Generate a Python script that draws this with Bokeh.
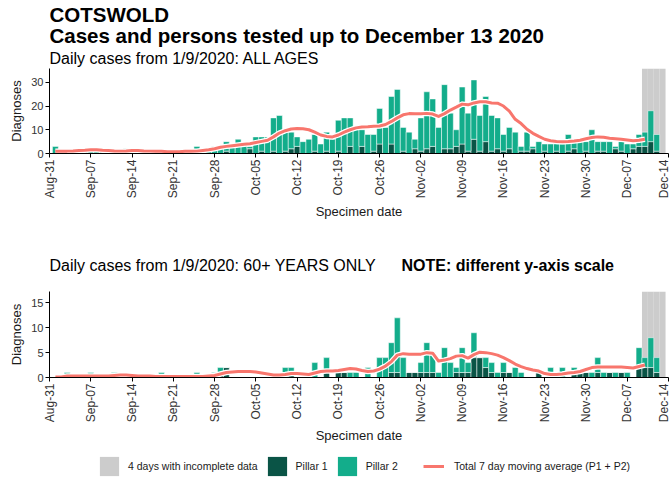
import math
import pandas as pd
from bokeh.plotting import figure
from bokeh.models import (ColumnDataSource, Range1d, FixedTicker, DatetimeTickFormatter,
                          Label, Legend, LegendItem)
from bokeh.layouts import column
from bokeh.embed import file_html
from bokeh.resources import INLINE

FONT = "Liberation Sans"
DARK = "#0a5446"
TEAL = "#13ad8b"
GREY = "#cccccc"
RED = "#f8766d"
W = 670

# ---------------- data ----------------
dates = pd.date_range("2020-09-01", "2020-12-13", freq="D")
week_ticks = pd.date_range("2020-08-31", "2020-12-14", freq="7D")
incomplete_days = pd.date_range("2020-12-10", "2020-12-13", freq="D")

all_p1 = [0, 0, 0, 0, 0, 0, 0,  0, 0, 0, 0, 0, 0, 0,  0, 0, 0, 0, 0, 0, 0,  0, 0, 0, 0, 0, 0, 0,
          0, 1, 0, 0, 0, 2, 0,  1, 0, 1, 0, 1, 2, 3,  0, 0, 1, 0, 1, 0, 1,  0, 3, 0, 3, 0, 1, 4,
          0, 4, 0, 1, 0, 2, 1,  2, 3, 0, 2, 2, 3, 4,  1, 6, 1, 5, 1, 2, 1,  2, 0, 1, 1, 2, 0, 1,
          0, 1, 0, 1, 2, 0, 1,  0, 1, 1, 0, 2, 1, 0,  2, 3, 3, 5, 1, 0]
all_p2 = [3, 0, 1, 1, 2, 1, 1,  2, 1, 1, 0, 1, 2, 1,  1, 1, 0, 1, 1, 0, 1,  0, 1, 1, 3, 1, 2, 3,
          2, 4, 4, 6, 4, 1, 7,  6, 7, 14, 16, 8, 7, 4,  5, 6, 7, 4, 8, 6, 13,  15, 12, 10, 7, 8, 7, 15,
          11, 20, 27, 10, 9, 4, 14,  24, 20, 11, 27, 15, 7, 24,  16, 25, 15, 19, 15, 13, 7,
          9, 9, 2, 8, 1, 5, 3,  4, 3, 4, 7, 3, 5, 4,  10, 4, 4, 5, 1, 4, 4,  2, 5, 6, 13, 7, 0]
all_avg = [0.9, 1.0, 1.0, 1.1, 1.3, 1.4, 1.6,  1.6, 1.4, 1.3, 1.1, 1.0, 1.1, 1.3,
           1.3, 1.1, 1.0, 0.9, 0.9, 0.7, 0.7,  0.7, 0.9, 0.9, 1.0, 1.3, 1.6, 2.0,
           2.6, 3.0, 3.3, 3.6, 3.9, 4.1, 4.6,  5.1, 5.6, 7.0, 8.6, 9.6, 10.3, 10.5,
           10.4, 10.0, 9.0, 7.8, 7.2, 7.0, 7.8,  9.0, 10.0, 10.8, 11.2, 11.3, 11.5, 11.6,
           12.2, 13.5, 15.0, 16.3, 16.8, 16.7, 16.7,  16.9, 16.6, 15.6, 16.8, 18.3, 19.5, 20.8,
           20.5, 21.3, 21.8, 21.8, 21.3, 21.2, 20.0,  17.8, 14.4, 12.6, 10.2, 8.5, 7.2, 6.0,
           5.4, 5.1, 5.0, 5.1, 5.3, 5.6, 6.2,  6.7, 7.0, 6.8, 6.4, 6.2, 6.0, 5.7,
           5.4, 5.6, 6.0]

old_p1 = [0, 0, 0, 0, 0, 0, 0,  0, 0, 0, 0, 0, 0, 0,  0, 0, 0, 0, 0, 0, 0,  0, 0, 0, 0, 0, 0, 0,
          1, 2, 0, 0, 0, 0, 0,  0, 0, 0, 0, 1, 1, 0,  0, 0, 0, 0, 1, 0, 1,  1, 0, 0, 0, 0, 0, 0,
          0, 1, 1, 0, 1, 1, 1,  1, 1, 0, 0, 0, 1, 1,  1, 4, 4, 2, 1, 0, 1,  1, 0, 0, 0, 0, 1, 0,
          0, 0, 0, 0, 1, 1, 1,  0, 1, 0, 1, 0, 1, 0,  0, 2, 2, 2, 1, 0]
old_p2 = [0, 0, 1, 0, 0, 0, 1,  0, 0, 0, 1, 0, 0, 0,  0, 0, 0, 0, 1, 0, 0,  0, 0, 0, 1, 0, 0, 1,
          1, 0, 0, 0, 0, 0, 0,  0, 0, 0, 0, 1, 1, 0,  0, 0, 3, 0, 3, 0, 0,  0, 1, 1, 0, 2, 0, 4,
          4, 6, 11, 4, 0, 0, 2,  6, 4, 1, 6, 3, 1, 5,  2, 5, 0, 2, 2, 1, 2,  0, 2, 1, 0, 0, 0, 0,
          2, 0, 2, 0, 1, 0, 0,  1, 3, 1, 0, 1, 0, 1,  0, 4, 2, 6, 3, 0]
old_avg = [0.1, 0.1, 0.3, 0.3, 0.3, 0.3, 0.3,  0.3, 0.3, 0.3, 0.4, 0.5, 0.5, 0.4,
           0.3, 0.3, 0.3, 0.2, 0.2, 0.2, 0.2,  0.2, 0.2, 0.2, 0.2, 0.2, 0.3, 0.4,
           0.7, 1.0, 1.1, 1.2, 1.2, 1.2, 1.1,  0.9, 0.7, 0.5, 0.5, 0.6, 0.8, 0.8,
           0.7, 0.6, 0.9, 1.2, 1.3, 1.3, 1.4,  1.6, 1.8, 1.7, 1.4, 1.2, 1.3, 1.7,
           2.3, 3.2, 4.5, 4.8, 4.7, 4.7, 4.7,  5.0, 4.9, 3.3, 3.5, 3.8, 4.3, 4.4,
           3.9, 4.6, 5.1, 5.0, 4.8, 4.5, 4.0,  3.4, 2.7, 2.2, 1.8, 1.5, 1.3, 0.8,
           0.6, 0.6, 0.7, 0.9, 1.0, 1.2, 1.6,  2.0, 2.1, 2.1, 2.1, 2.1, 2.1, 2.0,
           1.9, 2.2, 2.5]

top_yticks = [0, 10, 20, 30]
bottom_yticks = [0, 5, 10, 15]

DAY_MS = 24 * 60 * 60 * 1000
X_START = pd.Timestamp("2020-08-31")
X_END = pd.Timestamp("2020-12-14")


def text_strip(height):
    f = figure(width=W, height=height, output_backend="svg", toolbar_location=None,
               x_range=Range1d(0, 1), y_range=Range1d(0, 1), min_border=0)
    f.axis.visible = False
    f.grid.visible = False
    f.outline_line_color = None
    f.border_fill_color = "white"
    f.background_fill_color = "white"
    return f


def add_text(p, text, sx, sy, size, bold=False):
    p.add_layout(Label(x=sx, y=sy, x_units="screen", y_units="screen", text=text,
                       text_font=FONT, text_font_size=size,
                       text_font_style="bold" if bold else "normal",
                       text_baseline="alphabetic", text_align="left", text_color="black"))


def make_panel(p1, p2, avg, ymax, yticks, frame_h, b_bottom):
    p = figure(width=W, height=frame_h + b_bottom, output_backend="svg", toolbar_location=None,
               x_axis_type="datetime", x_range=Range1d(X_START, X_END),
               y_range=Range1d(0, ymax), min_border_left=49, min_border_right=2,
               min_border_top=0, min_border_bottom=b_bottom)
    p.outline_line_color = None
    p.grid.visible = False
    p.background_fill_color = "white"
    p.border_fill_color = "white"

    p.vbar(x=incomplete_days, top=ymax, width=DAY_MS, fill_color=GREY, line_color=None)

    src = ColumnDataSource(dict(date=dates, p1=p1, p2=p2))
    p.vbar_stack(["p1", "p2"], x="date", width=DAY_MS, color=[DARK, TEAL], source=src,
                 line_color="white", line_width=0.5)

    p.line(dates[:len(avg)], avg, line_color="white", line_width=5.5, line_join="round")
    p.line(dates[:len(avg)], avg, line_color=RED, line_width=3, line_join="round")

    xa = p.xaxis[0]
    xa.ticker = FixedTicker(ticks=list(week_ticks.astype("int64") // 10**6))
    fmt = "%b-%d"
    xa.formatter = DatetimeTickFormatter(milliseconds=fmt, seconds=fmt, minsec=fmt, minutes=fmt,
                                         hourmin=fmt, hours=fmt, days=fmt, months=fmt, years=fmt)
    xa.major_label_orientation = math.pi / 2
    xa.major_label_text_font = FONT
    xa.major_label_text_font_size = "12px"
    xa.major_label_text_color = "#333333"
    xa.major_label_standoff = 2
    xa.major_tick_out = 4
    xa.major_tick_in = 0
    xa.minor_tick_line_color = None
    xa.axis_line_color = "black"
    xa.major_tick_line_color = "black"
    xa.axis_label = "Specimen date"
    xa.axis_label_text_font = FONT
    xa.axis_label_text_font_size = "13px"
    xa.axis_label_text_font_style = "normal"
    xa.axis_label_text_color = "#1a1a1a"
    xa.axis_label_standoff = 3

    ya = p.yaxis[0]
    ya.ticker = FixedTicker(ticks=yticks)
    ya.major_label_text_font = FONT
    ya.major_label_text_font_size = "11px"
    ya.major_label_text_color = "#333333"
    ya.major_label_standoff = 2
    ya.major_tick_out = 4
    ya.major_tick_in = 0
    ya.minor_tick_line_color = None
    ya.axis_line_color = "black"
    ya.major_tick_line_color = "black"
    ya.axis_label = "Diagnoses"
    ya.axis_label_text_font = FONT
    ya.axis_label_text_font_size = "13px"
    ya.axis_label_text_font_style = "normal"
    ya.axis_label_text_color = "#1a1a1a"
    ya.axis_label_standoff = 4
    return p


head1 = text_strip(68)
add_text(head1, "COTSWOLD", 0, 54, "20.5px", bold=True)
add_text(head1, "Cases and persons tested up to December 13 2020", 0, 33, "20.5px", bold=True)
add_text(head1, "Daily cases from 1/9/2020: ALL AGES", 0, 10, "16px")

top = make_panel(all_p1, all_p2, all_avg, 35.8, top_yticks, 89, 65)

head2 = text_strip(69)
add_text(head2, "Daily cases from 1/9/2020: 60+ YEARS ONLY", 0, 26, "16px")
add_text(head2, "NOTE: different y-axis scale", 352, 26, "16px", bold=True)

bottom = make_panel(old_p1, old_p2, old_avg, 17.3, bottom_yticks, 90, 65)

# ---------------- legend strip ----------------
lg = text_strip(37)
r_grey = lg.vbar(x=[0], top=[0], width=0.0001, fill_color=GREY, line_color=None)
r_p1 = lg.vbar(x=[0], top=[0], width=0.0001, fill_color=DARK, line_color=None)
r_p2 = lg.vbar(x=[0], top=[0], width=0.0001, fill_color=TEAL, line_color=None)
r_line = lg.line(x=[0, 0], y=[0, 0], line_color=RED, line_width=3)

common = dict(orientation="horizontal", glyph_height=24, label_height=24, padding=0, margin=0,
              border_line_color=None, background_fill_alpha=0, label_text_font=FONT,
              label_text_font_size="10.5px", label_text_color="#1a1a1a")
leg1 = Legend(items=[LegendItem(label="4 days with incomplete data", renderers=[r_grey]),
                     LegendItem(label="Pillar 1", renderers=[r_p1]),
                     LegendItem(label="Pillar 2", renderers=[r_p2])],
              location=(48, 5), glyph_width=24, label_standoff=7, spacing=7, **common)
leg2 = Legend(items=[LegendItem(label="Total 7 day moving average (P1 + P2)", renderers=[r_line])],
              location=(374, 5), glyph_width=21, label_standoff=10, spacing=0, **common)
lg.add_layout(leg1, "center")
lg.add_layout(leg2, "center")

layout = column(head1, top, head2, bottom, lg)
open("out.html", "w").write(file_html(layout, INLINE))
